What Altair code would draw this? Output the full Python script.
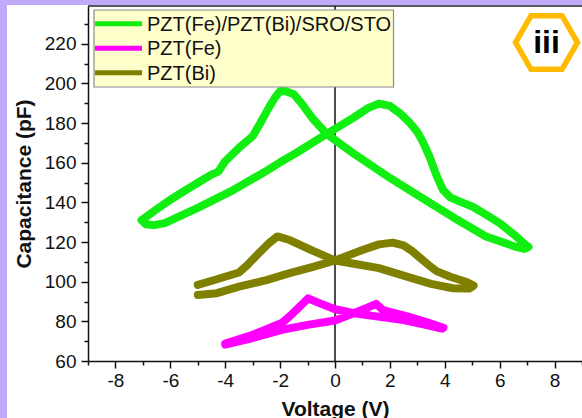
import altair as alt
import pandas as pd

# ---- data ----
series_names = ["PZT(Fe)/PZT(Bi)/SRO/STO", "PZT(Fe)", "PZT(Bi)"]
series_colors = ["#11EE11", "#FF00FF", "#808000"]

green_v = [-7.05, -6.9, -6.6, -6.2, -5.0, -3.8, -2.6, -2.0, -1.4, -0.3, 0.65, 1.2, 1.6, 2.0,
           2.4, 2.7, 3.0, 3.2, 3.44, 3.7, 3.93, 4.2, 4.53, 5.02, 5.5, 6.0, 6.5, 6.95, 7.05,
           6.9, 6.6, 5.5, 4.3, 3.08, 2.0, 0.65, -0.3, -0.8, -1.2, -1.5, -1.8, -2.01, -2.2,
           -2.4, -2.7, -3.0, -3.5, -4.01, -4.25, -4.5, -4.8, -5.4, -6.0, -6.5, -7.0, -7.05]
green_c = [131.0, 129.0, 128.5, 129.5, 137.2, 145.5, 155.0, 160.2, 165.0, 174.5, 182.5, 187.5, 189.8, 188.6,
           184.5, 180.5, 175.5, 170.5, 163.2, 153.5, 146.4, 142.5, 140.5, 137.8, 133.8, 129.5, 124.0, 118.5, 117.5,
           116.5, 117.5, 122.8, 132.5, 143.0, 152.3, 164.9, 174.5, 182.0, 189.5, 194.5, 196.0, 196.0, 192.5,
           188.0, 180.5, 173.3, 167.5, 160.6, 155.5, 154.0, 151.5, 146.5, 141.3, 136.5, 131.5, 131.0]

fe_v = [-4.0, -3.0, -1.9, -1.0, 0.0, 0.7, 1.2, 1.5, 1.75, 2.6, 3.3, 3.95,
        3.9, 3.3, 2.5, 1.5, 0.7, 0.0, -0.5, -0.98, -1.16, -1.53, -1.9, -3.0, -4.0]
fe_c = [68.3, 71.6, 75.8, 78.2, 80.4, 84.2, 87.0, 88.8, 85.6, 82.6, 79.8, 76.8,
        76.3, 78.2, 80.6, 82.5, 84.1, 86.1, 88.8, 91.6, 89.1, 84.1, 79.5, 73.2, 68.8]

bi_v = [-5.0, -4.3, -3.5, -2.5, -1.65, -0.8, 0.0, 1.0, 1.6, 2.1, 2.5, 2.8, 3.1, 3.4, 3.7, 4.2, 4.8, 5.05,
        4.9, 4.3, 3.5, 2.8, 1.6, 0.8, 0.0, -0.8, -1.65, -2.1, -2.4, -2.8, -3.2, -3.5, -4.3, -5.0]
bi_c = [93.3, 94.2, 97.5, 100.8, 104.3, 107.5, 110.7, 116.0, 118.8, 119.7, 118.3, 115.5, 112.0, 108.5, 105.3, 102.5, 99.8, 98.0,
        96.5, 96.7, 98.9, 101.8, 106.8, 108.8, 110.7, 115.5, 121.0, 122.8, 119.5, 114.0, 108.3, 104.6, 101.2, 98.4]

x_ticks = list(range(-9, 10))
y_ticks = list(range(60, 240, 10))

FONT = "Liberation Sans"

rows = []
for name, vs, cs in [(series_names[0], green_v, green_c),
                     (series_names[1], fe_v, fe_c),
                     (series_names[2], bi_v, bi_c)]:
    for i, (v, c) in enumerate(zip(vs, cs)):
        rows.append({"series": name, "V": v, "C": c, "i": i})
df = pd.DataFrame(rows)

W, H = 494, 355

xscale = alt.Scale(domain=[-9, 9], nice=False, zero=False)
yscale = alt.Scale(domain=[60, 239], nice=False, zero=False)

xaxis = alt.Axis(
    values=x_ticks,
    labelExpr="datum.value % 2 == 0 ? '' + datum.value : ''",
    tickSize={"condition": {"test": "datum.value % 2 == 0", "value": 7}, "value": 4},
    title="Voltage (V)", titleFontSize=21, titleFontWeight="bold", titlePadding=8,
    labelFontSize=19, labelPadding=3, grid=False,
)
yaxis = alt.Axis(
    values=y_ticks,
    labelExpr="datum.value % 20 == 0 ? '' + datum.value : ''",
    tickSize={"condition": {"test": "datum.value % 20 == 0", "value": 7}, "value": 4},
    title="Capacitance (pF)", titleFontSize=21, titleFontWeight="bold", titlePadding=10,
    labelFontSize=19, labelPadding=5, grid=False,
)

one = pd.DataFrame({"a": [0]})

# purple frame strips (outside the plot area)
strip_left = alt.Chart(one).mark_rect(color="#C1AAF8").encode(
    x=alt.value(-88), x2=alt.value(-81), y=alt.value(-6), y2=alt.value(412))
strip_top = alt.Chart(one).mark_rect(color="#C1AAF8").encode(
    x=alt.value(-88), x2=alt.value(W), y=alt.value(-6), y2=alt.value(-1))

# top frame line
top_line = alt.Chart(one).mark_rule(color="#222222", strokeWidth=1.5).encode(
    x=alt.value(0), x2=alt.value(W), y=alt.value(0))

# vertical zero line
zero_line = alt.Chart(one).mark_rule(color="#111111", strokeWidth=1.5).encode(
    x=alt.datum(0, scale=xscale, axis=xaxis),
    y=alt.datum(60, scale=yscale, axis=yaxis),
    y2=alt.datum(239),
)

lines = alt.Chart(df).mark_line(strokeWidth=8, strokeCap="round", strokeJoin="round").encode(
    x=alt.X("V:Q", scale=xscale, axis=xaxis),
    y=alt.Y("C:Q", scale=yscale, axis=yaxis),
    color=alt.Color("series:N", scale=alt.Scale(domain=series_names, range=series_colors),
                    legend=None),
    detail="series:N",
    order="i:Q",
)

# legend box built from the series lists
LX0, LX1, LY0, LY1 = 6, 305.5, 4, 81
legend_box = alt.Chart(one).mark_rect(fill="#FFFFCC", stroke="#8A8A8A", strokeWidth=1.2).encode(
    x=alt.value(LX0), x2=alt.value(LX1), y=alt.value(LY0), y2=alt.value(LY1))
legend_layers = [legend_box]
for k, (name, col) in enumerate(zip(series_names, series_colors)):
    ry = 17.7 + 24.5 * k
    legend_layers.append(
        alt.Chart(one).mark_rule(color=col, strokeWidth=5).encode(
            x=alt.value(7), x2=alt.value(54), y=alt.value(ry)))
    legend_layers.append(
        alt.Chart(one).mark_text(text=name, font=FONT, fontSize=20, color="#111111",
                                 align="left", baseline="middle").encode(
            x=alt.value(59), y=alt.value(ry + 1)))

hex_path = "M -1 0 L -0.5 -0.866 L 0.5 -0.866 L 1 0 L 0.5 0.866 L -0.5 0.866 Z"
badge = alt.Chart(one).mark_point(shape=hex_path, filled=False, stroke="#FFBB00",
                                   strokeWidth=5.5, size=3844, opacity=1).encode(
    x=alt.value(458.5), y=alt.value(36.5))
badge_text = alt.Chart(one).mark_text(text="iii", font=FONT, fontSize=32, fontWeight="bold",
                                       color="black", align="center", baseline="alphabetic").encode(
    x=alt.value(458.5), y=alt.value(47))

chart = alt.layer(strip_left, strip_top, top_line, zero_line, lines, *legend_layers,
                  badge, badge_text).properties(
    width=W, height=H,
    padding={"left": 88, "top": 6, "right": 0, "bottom": 57},
    autosize=alt.AutoSizeParams(type="none"),
    background="white",
).configure_view(stroke=None).configure_axis(
    domainColor="#111111", domainWidth=1.5, tickColor="#111111", tickWidth=1.5,
    labelFont=FONT, titleFont=FONT, labelColor="#111111", titleColor="#111111",
)

chart.save("out.html", embed_options={"renderer": "svg", "actions": False})
